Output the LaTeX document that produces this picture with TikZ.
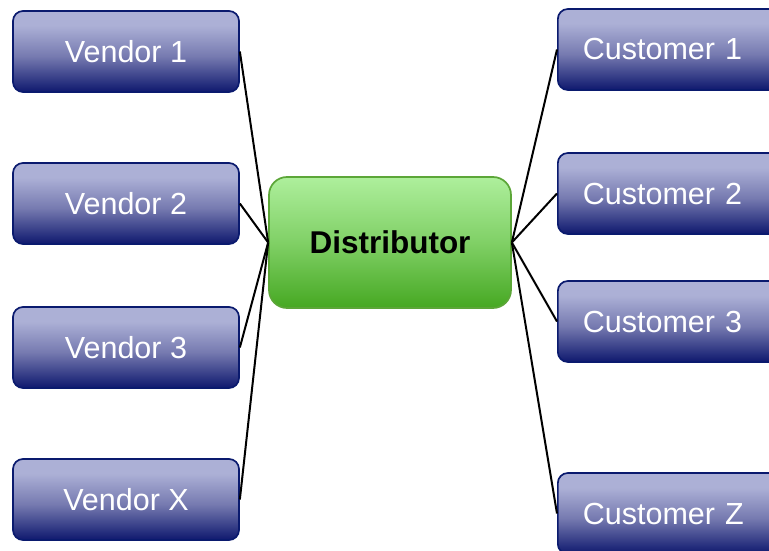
\documentclass[tikz,border=0pt]{standalone}
\usepackage{fontspec}
\setmainfont{Liberation Sans}
\usetikzlibrary{positioning}

% box colours
\definecolor{navyL}{RGB}{172,176,214}
\definecolor{navyM}{RGB}{118,122,176}
\definecolor{navyD}{RGB}{14,24,110}
\definecolor{navyB}{RGB}{10,26,110}
\definecolor{greenL}{RGB}{174,239,156}
\definecolor{greenM}{RGB}{128,208,102}
\definecolor{greenD}{RGB}{70,168,34}
\definecolor{greenB}{RGB}{92,166,56}

% vertical fills (bottom to top; the path spans 25bp..75bp)
\pgfdeclareverticalshading{navyfill}{100bp}{color(0bp)=(navyD); color(25bp)=(navyD); color(47bp)=(navyM); color(66bp)=(navyL); color(75bp)=(navyL); color(100bp)=(navyL)}
\pgfdeclareverticalshading{greenfill}{100bp}{color(0bp)=(greenD); color(25bp)=(greenD); color(50bp)=(greenM); color(75bp)=(greenL); color(100bp)=(greenL)}

\tikzset{
  partybox/.style={shade, shading=navyfill, draw=navyB, line width=1.7pt,
    rounded corners=10pt, minimum width=226pt, minimum height=81pt,
    inner sep=0pt, text=white, font=\fontsize{30.5}{36}\selectfont},
  custbox/.style={partybox, anchor=west, text width=190pt, align=left,
    inner xsep=25pt, minimum width=240pt},
  hubbox/.style={shade, shading=greenfill, draw=greenB, line width=1.7pt,
    rounded corners=18pt, minimum width=242pt, minimum height=131pt,
    inner sep=0pt, text=black, font=\fontsize{31.5}{37}\selectfont\bfseries},
  link/.style={draw=black, line width=2pt}
}

\begin{document}
\begin{tikzpicture}[x=1pt,y=-1pt]
  \clip (0,0) rectangle (769,551);

  % suppliers
  \node[partybox] (v1) at (126,51.5) {Vendor 1};
  \node[partybox] (v2) at (126,203.5) {Vendor 2};
  \node[partybox] (v3) at (126,347.5) {Vendor 3};
  \node[partybox] (vx) at (126,499.5) {Vendor X};

  % hub
  \node[hubbox] (dist) at (390,242.5) {Distributor};

  % customers
  \node[custbox] (c1) at (557,49.5) {Customer 1};
  \node[custbox] (c2) at (557,193.5) {Customer 2};
  \node[custbox] (c3) at (557,321.5) {Customer 3};
  \node[custbox] (cz) at (557,513.5) {Customer Z};

  % connectors
  \foreach \v in {v1,v2,v3,vx}
    \draw[link] (\v.east) -- (dist.west);
  \foreach \c in {c1,c2,c3,cz}
    \draw[link] (\c.west) -- (dist.east);
\end{tikzpicture}
\end{document}
